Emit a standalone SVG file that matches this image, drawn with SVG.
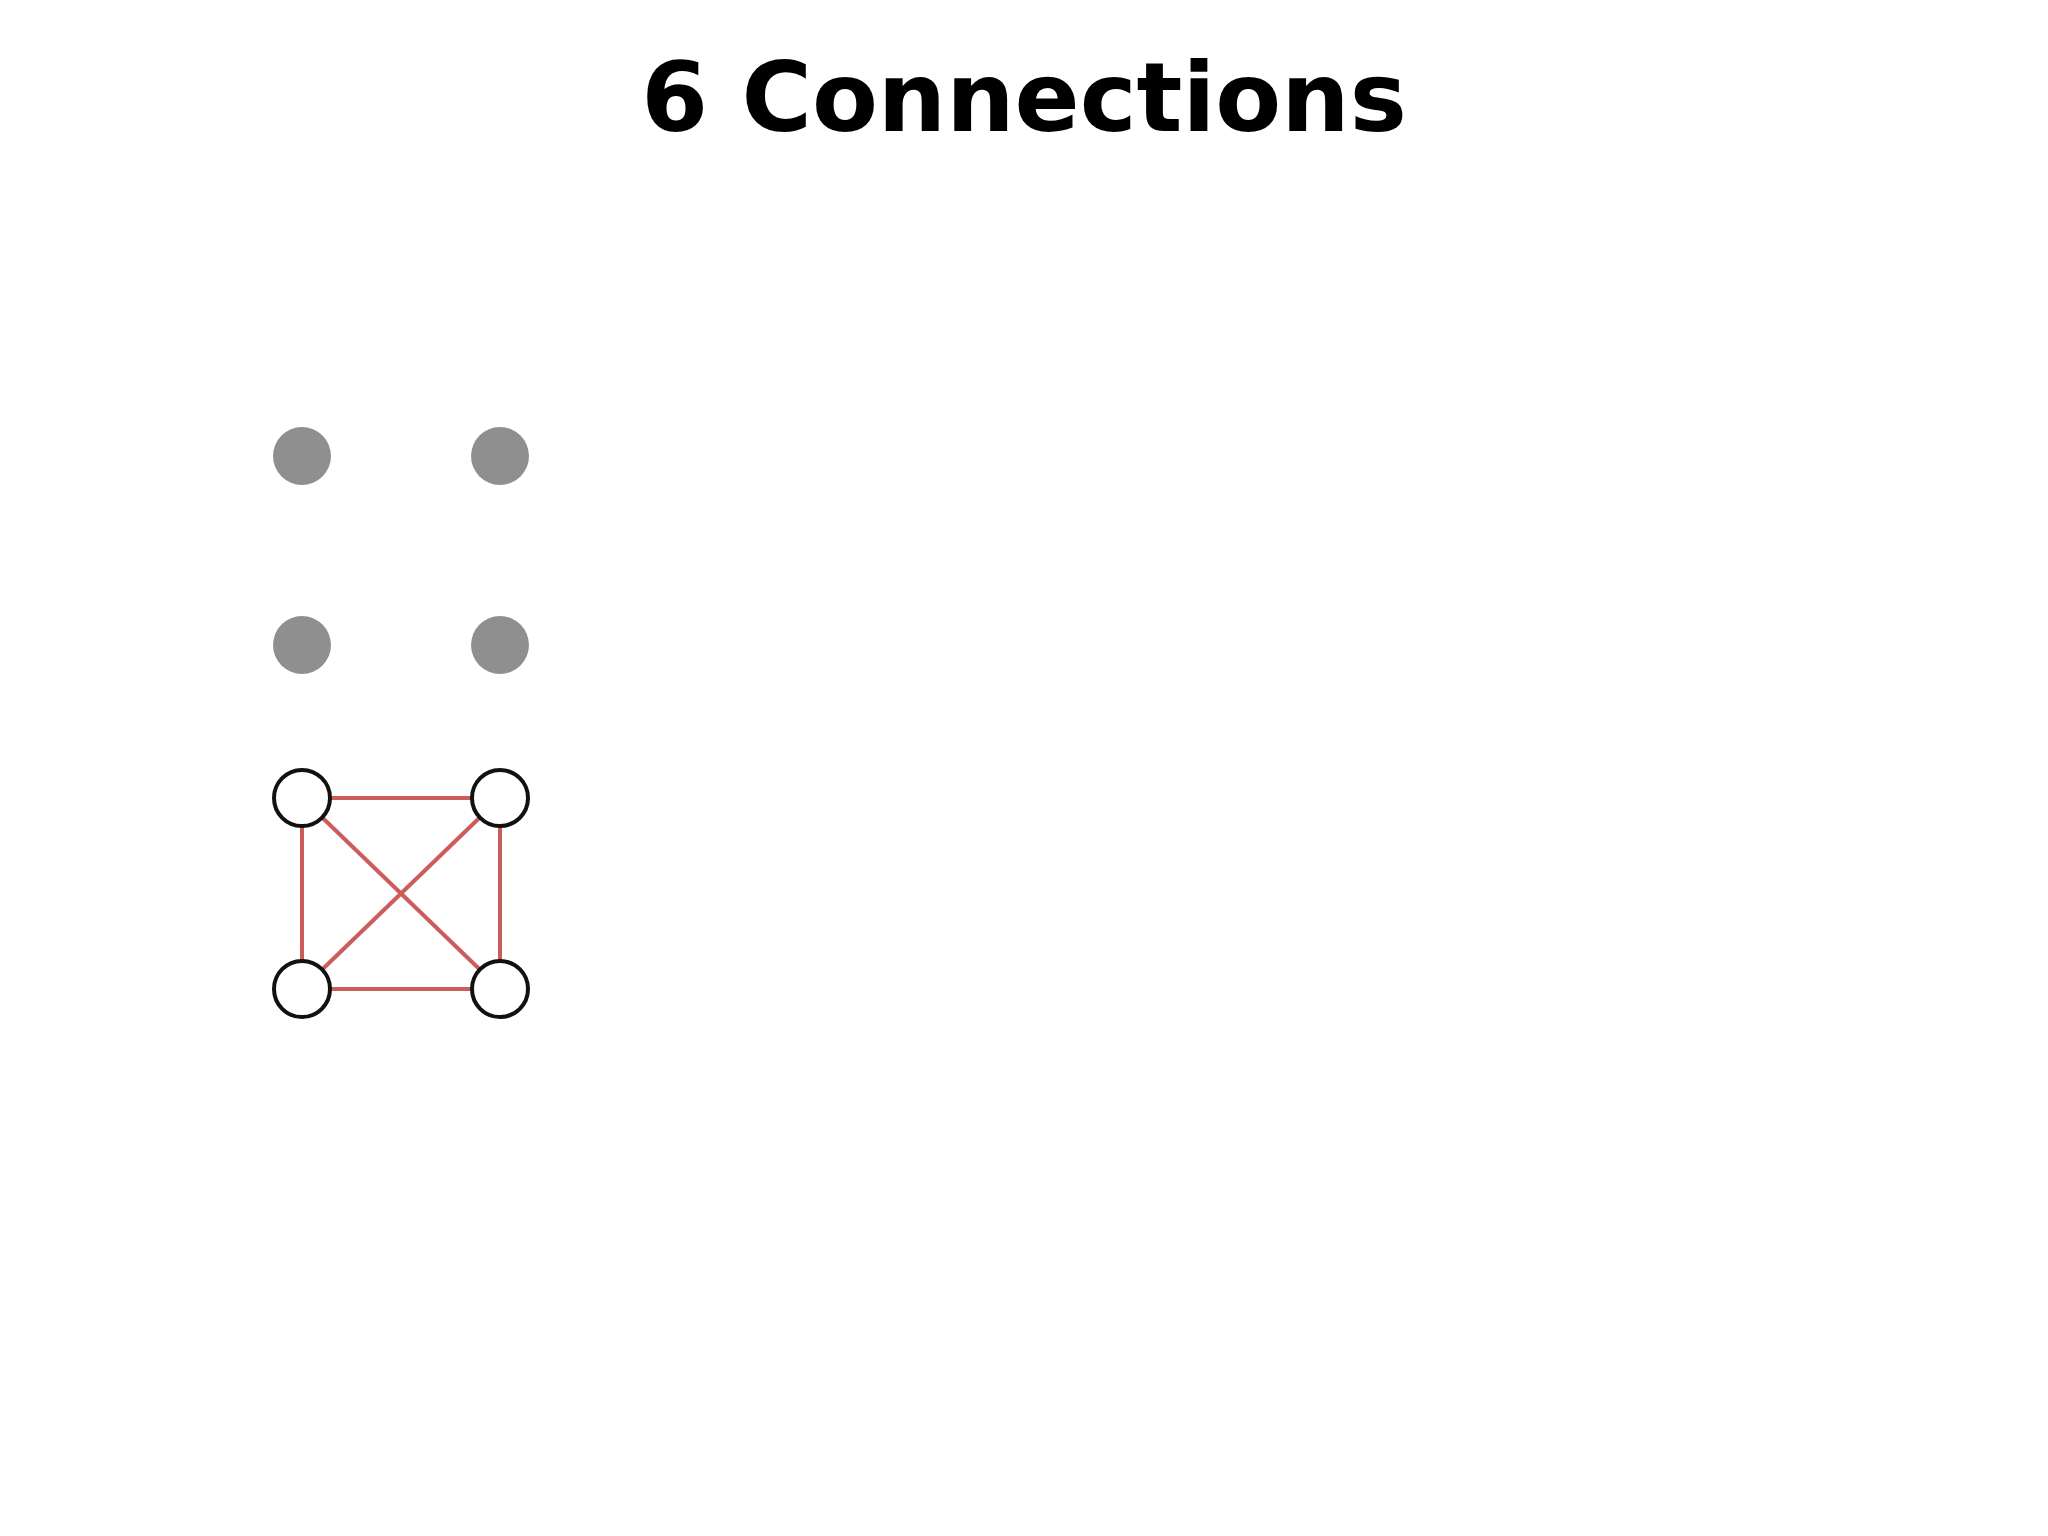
<svg xmlns="http://www.w3.org/2000/svg" width="2048" height="1536" viewBox="0 0 2048 1536">
<style>
.t{font-family:"DejaVu Sans",sans-serif;font-weight:900;font-size:96px;fill:#000}
.dot{fill:#8f8f8f}
.n{fill:#fff;stroke:#111;stroke-width:4}
.e{stroke:#cd5c5c;stroke-width:4;fill:none}
</style>
<rect width="2048" height="1536" fill="#fff"/>
<text class="t" x="1024" y="131" text-anchor="middle">6 Connections</text>
<g id="dots">
<circle class="dot" cx="302" cy="456" r="29"/>
<circle class="dot" cx="500" cy="456" r="29"/>
<circle class="dot" cx="302" cy="645" r="29"/>
<circle class="dot" cx="500" cy="645" r="29"/>
</g>
<g id="connectors">
<line class="e" x1="302" y1="798" x2="500" y2="798"/>
<line class="e" x1="302" y1="989" x2="500" y2="989"/>
<line class="e" x1="302" y1="798" x2="302" y2="989"/>
<line class="e" x1="500" y1="798" x2="500" y2="989"/>
<line class="e" x1="302" y1="798" x2="500" y2="989"/>
<line class="e" x1="500" y1="798" x2="302" y2="989"/>
</g>
<g id="n1"><circle class="n" cx="302" cy="798" r="28"/></g>
<g id="n2"><circle class="n" cx="500" cy="798" r="28"/></g>
<g id="n3"><circle class="n" cx="302" cy="989" r="28"/></g>
<g id="n4"><circle class="n" cx="500" cy="989" r="28"/></g>
</svg>
